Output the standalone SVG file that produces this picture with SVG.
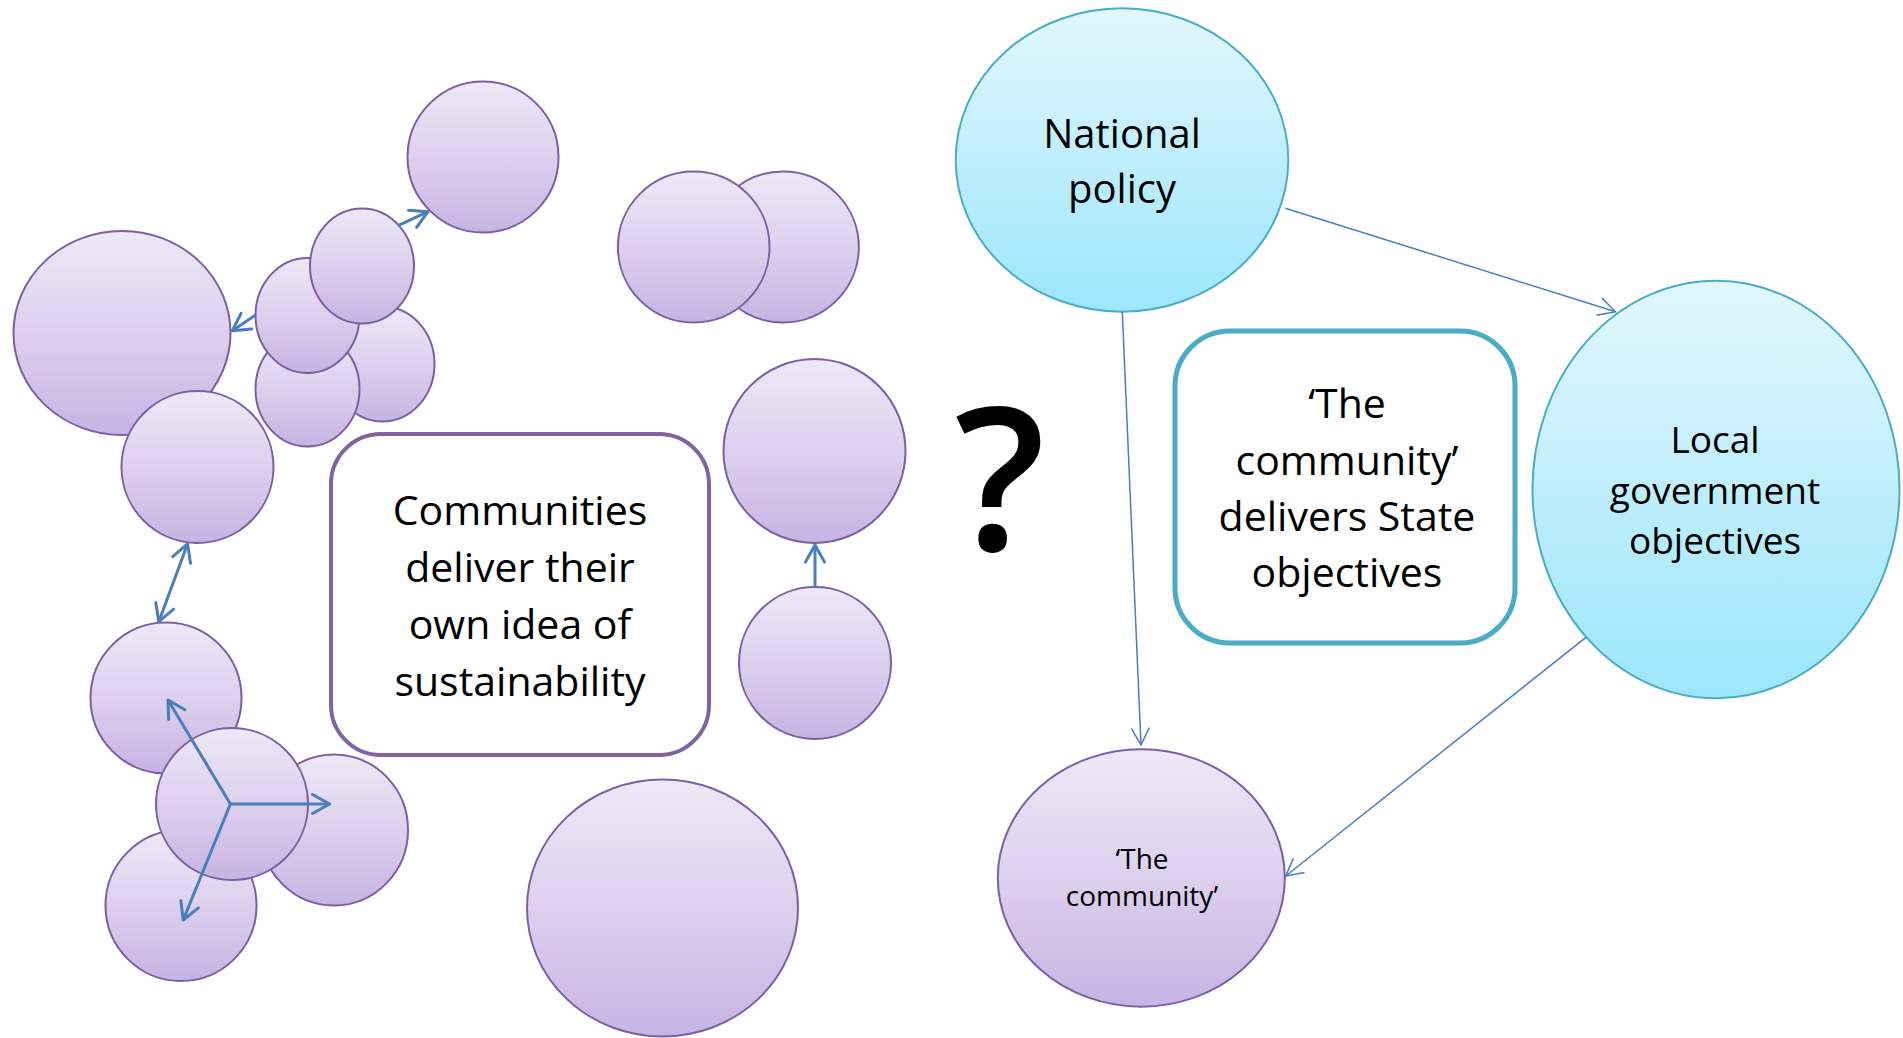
<svg xmlns="http://www.w3.org/2000/svg" width="1903" height="1038" viewBox="0 0 1903 1038">
<defs>
<linearGradient id="gp" x1="0" y1="0" x2="0" y2="1">
<stop offset="0" stop-color="#eee8f7"/>
<stop offset="0.5" stop-color="#ddd0ee"/>
<stop offset="1" stop-color="#c6b4e3"/>
</linearGradient>
<linearGradient id="gc" x1="0" y1="0" x2="0" y2="1">
<stop offset="0" stop-color="#e3f7fd"/>
<stop offset="0.5" stop-color="#bfeefc"/>
<stop offset="1" stop-color="#9ce6fb"/>
</linearGradient>
<marker id="ah" viewBox="0 0 22 22" refX="19" refY="11" markerWidth="22" markerHeight="22" markerUnits="userSpaceOnUse" orient="auto-start-reverse">
<path d="M2,1.5 L19,11 L2,20.5" fill="none" stroke="#4a7ebb" stroke-width="3" stroke-linecap="round" stroke-linejoin="round"/>
</marker>
<marker id="at" viewBox="0 0 20 22" refX="18" refY="11" markerWidth="20" markerHeight="22" markerUnits="userSpaceOnUse" orient="auto">
<path d="M1,2 L18,11 L1,20" fill="none" stroke="#4a7ebb" stroke-width="1.5"/>
</marker>
</defs>
<style>
.p{fill:url(#gp);stroke:#7c5fa3;stroke-width:2}
.c{fill:url(#gc);stroke:#4aacc5;stroke-width:2}
.t{font-family:"Open Sans","Liberation Sans",sans-serif;fill:#000;text-anchor:middle}
.thick{stroke:#4a7ebb;stroke-width:3;fill:none}
.thin{stroke:#4a7ebb;stroke-width:1.5;fill:none}
</style>
<rect width="1903" height="1038" fill="#fff"/>

<g id="left-cluster-top">
<ellipse id="c1" class="p" cx="483" cy="157" rx="75.5" ry="75.5"/>
<ellipse id="c2" class="p" cx="122" cy="333" rx="108.5" ry="102"/>
<ellipse id="c3" class="p" cx="197.5" cy="467" rx="76" ry="76"/>
<ellipse id="c5" class="p" cx="382.5" cy="364" rx="52" ry="57.5"/>
<ellipse id="c4" class="p" cx="307.5" cy="389" rx="52" ry="57.5"/>
<ellipse id="c6" class="p" cx="307.5" cy="315.5" rx="52" ry="57.5"/>
<ellipse id="c7" class="p" cx="362" cy="266" rx="52" ry="57.5"/>
</g>

<g id="left-cluster-bottom">
<ellipse id="c8" class="p" cx="166" cy="698" rx="75.5" ry="75.5"/>
<ellipse id="c11" class="p" cx="181" cy="905.5" rx="75.5" ry="75.5"/>
<ellipse id="c10" class="p" cx="334" cy="830" rx="74" ry="75.5"/>
<ellipse id="c9" class="p" cx="232" cy="804" rx="76" ry="76"/>
</g>

<g id="c12"><ellipse class="p" cx="662.5" cy="908" rx="135.5" ry="128.5"/></g>

<g id="pair">
<ellipse class="p" cx="783" cy="247" rx="75.8" ry="75.5"/>
<ellipse class="p" cx="693.7" cy="247" rx="75.8" ry="75.5"/>
</g>

<g id="right-pair">
<ellipse id="c13" class="p" cx="814.5" cy="451" rx="91" ry="92"/>
<ellipse id="c14" class="p" cx="815" cy="663" rx="76" ry="76"/>
</g>

<g id="box-communities">
<rect x="331" y="434" width="378" height="321" rx="50" ry="50" fill="#fff" stroke="#8064a2" stroke-width="4"/>
<text class="t" font-size="41" x="520" y="525">Communities</text>
<text class="t" font-size="41" x="520" y="582">deliver their</text>
<text class="t" font-size="41" x="520" y="639">own idea of</text>
<text class="t" font-size="41" x="520" y="696">sustainability</text>
</g>

<g id="question">
<text class="t" font-size="200" font-weight="600" x="1000" y="550">?</text>
</g>

<g id="national-policy">
<ellipse class="c" cx="1122" cy="160" rx="166.3" ry="151.7"/>
<text class="t" font-size="40" x="1122" y="148">National</text>
<text class="t" font-size="40" x="1122" y="203">policy</text>
</g>

<g id="box-state">
<rect x="1175" y="331" width="340" height="312" rx="55" ry="55" fill="#fff" stroke="#4bacc6" stroke-width="5"/>
<text class="t" font-size="41" x="1347" y="418">‘The</text>
<text class="t" font-size="41" x="1347" y="475">community’</text>
<text class="t" font-size="41" x="1347" y="531">delivers State</text>
<text class="t" font-size="41" x="1347" y="587">objectives</text>
</g>

<g id="local-government">
<ellipse class="c" cx="1716" cy="489.5" rx="183.5" ry="208.8"/>
<text class="t" font-size="37" x="1715" y="453">Local</text>
<text class="t" font-size="37" x="1715" y="503.5">government</text>
<text class="t" font-size="37" x="1715" y="554">objectives</text>
</g>

<g id="the-community">
<ellipse class="p" cx="1141.3" cy="878" rx="143.5" ry="128.7"/>
<text class="t" font-size="28" x="1142" y="869">‘The</text>
<text class="t" font-size="28" x="1142" y="905.5">community’</text>
</g>

<g id="connectors">
<line class="thick" x1="398" y1="225.7" x2="428" y2="211.7" marker-end="url(#ah)"/>
<line class="thick" x1="255.6" y1="315" x2="232.3" y2="330.7" marker-end="url(#ah)"/>
<line class="thick" x1="187.5" y1="544" x2="158.8" y2="621.7" marker-start="url(#ah)" marker-end="url(#ah)"/>
<line class="thick" x1="230.4" y1="804" x2="168" y2="700" marker-end="url(#ah)"/>
<line class="thick" x1="230.4" y1="804" x2="329.6" y2="804" marker-end="url(#ah)"/>
<line class="thick" x1="230.4" y1="804" x2="183.2" y2="920" marker-end="url(#ah)"/>
<line class="thick" x1="815" y1="587" x2="815" y2="545" marker-end="url(#ah)"/>
<line class="thin" x1="1285.2" y1="208.3" x2="1615.5" y2="311.7" marker-end="url(#at)"/>
<line class="thin" x1="1122.3" y1="311.7" x2="1141" y2="745" marker-end="url(#at)"/>
<line class="thin" x1="1586" y1="637.3" x2="1285.7" y2="876" marker-end="url(#at)"/>
</g>
</svg>
